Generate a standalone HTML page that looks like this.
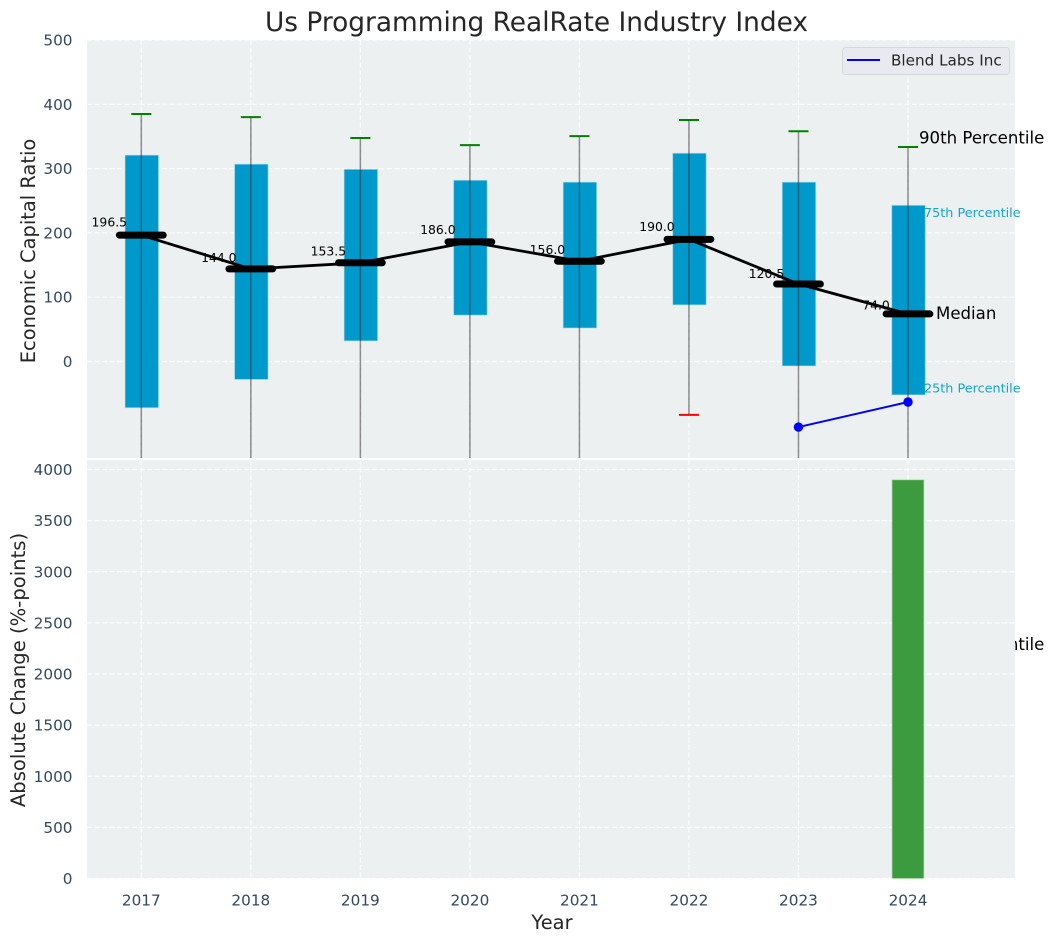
<!DOCTYPE html>
<html>
<head>
<meta charset="utf-8">
<style>
html,body{margin:0;padding:0;background:#fff;}
svg{display:block;font-family:"DejaVu Sans","Liberation Sans",sans-serif;}
</style>
</head>
<body>
<svg id="chart" width="1054" height="942" viewBox="0 0 1054 942" xmlns="http://www.w3.org/2000/svg">
  <defs>
    <clipPath id="top-clip"><rect x="87" y="40" width="928" height="418"></rect></clipPath>
    <clipPath id="bottom-clip"><rect x="87" y="460" width="928" height="418.5"></rect></clipPath>
  </defs>
  <text x="536.5" y="31" text-anchor="middle" font-size="26.4" fill="#262626">Us Programming RealRate Industry Index</text>
  <rect x="87" y="40" width="928" height="418" fill="#ecf0f1"></rect>
  <g id="top-grid"></g>
  <g id="top-ticks"></g>
  <g id="top-marks" clip-path="url(#top-clip)"></g>
  <text transform="translate(35,251) rotate(-90)" text-anchor="middle" font-size="19.44" fill="#262626">Economic Capital Ratio</text>
  <g>
    <rect x="842.5" y="47.5" width="167" height="27" rx="3" fill="#e8eaf0" stroke="#d5d8dc"></rect>
    <line x1="847" y1="60" x2="880" y2="60" stroke="#0000ff" stroke-width="2"></line>
    <text x="891" y="65.5" font-size="15.2" fill="#262626">Blend Labs Inc</text>
  </g>
  <g id="annotations"></g>
  <rect x="87" y="460" width="928" height="418.5" fill="#ecf0f1"></rect>
  <g id="bottom-grid"></g>
  <g id="bottom-ticks"></g>
  <g id="bottom-bars" clip-path="url(#bottom-clip)"></g>
  <g id="x-ticks"></g>
  <text transform="translate(25,670) rotate(-90)" text-anchor="middle" font-size="19.6" fill="#262626">Absolute Change (%-points)</text>
  <text x="552" y="929" text-anchor="middle" font-size="19.44" fill="#262626">Year</text>
</svg>
<script>
const years = [2017, 2018, 2019, 2020, 2021, 2022, 2023, 2024];
const p90 = [385, 380, 347.5, 336.5, 350.5, 375.5, 358, 333.5];
const p75 = [321, 307, 299, 282, 279, 324, 279, 243];
const medians = [196.5, 144, 153.5, 186, 156, 190, 120.5, 74];
const p25 = [-72, -28, 32, 72, 52, 88, -7, -52];
const p10 = [-210, -190, -180, -170, -175, -83, -220, -454];
const companyYears = [2023, 2024];
const companyValues = [-102, -63];
const changeYears = [2024];
const changeValues = [3897];
const topTicks = [0, 100, 200, 300, 400, 500];
const bottomTicks = [0, 500, 1000, 1500, 2000, 2500, 3000, 3500, 4000];

const SVG_NS = 'http://www.w3.org/2000/svg';
function xScale(v) { return 141.3 + (v - 2017) * 109.53; }
function yTop(v) { return 361.5 - v * 0.643; }
function yBottom(v) { return 878.5 - v * 0.10225; }
function make(parent, tag, props, content) {
  const node = document.createElementNS(SVG_NS, tag);
  Object.keys(props).forEach(function (k) { node.setAttribute(k, props[k]); });
  if (content !== undefined) node.textContent = content;
  parent.appendChild(node);
  return node;
}
const GRID = { stroke: '#ffffff', 'stroke-width': 1.2, 'stroke-dasharray': '5 2.5', 'stroke-opacity': 0.85 };
function gridProps(x1, y1, x2, y2) { return Object.assign({ x1: x1, y1: y1, x2: x2, y2: y2 }, GRID); }

const topGrid = document.getElementById('top-grid');
const topTickG = document.getElementById('top-ticks');
const bottomGrid = document.getElementById('bottom-grid');
const bottomTickG = document.getElementById('bottom-ticks');
const xTickG = document.getElementById('x-ticks');
const marks = document.getElementById('top-marks');
const notes = document.getElementById('annotations');
const bars = document.getElementById('bottom-bars');

topTicks.forEach(function (t) {
  const g = make(topGrid, 'line', gridProps(87, yTop(t), 1015, yTop(t)));
  
  
  const l = make(topTickG, 'text', { x: 72.5, y: yTop(t) + 5.5, 'text-anchor': 'end', 'font-size': 15.28, fill: '#34495e' }, String(t));
  
  
});
bottomTicks.forEach(function (t) {
  const g = make(bottomGrid, 'line', gridProps(87, yBottom(t), 1015, yBottom(t)));
  
  
  const l = make(bottomTickG, 'text', { x: 72.5, y: yBottom(t) + 5.5, 'text-anchor': 'end', 'font-size': 15.28, fill: '#34495e' }, String(t));
  
  
});
years.forEach(function (yr) {
  const x = xScale(yr);
  const g1 = make(topGrid, 'line', gridProps(x, 40, x, 458));
  
  
  const g2 = make(bottomGrid, 'line', gridProps(x, 460, x, 878.5));
  
  
  const l = make(xTickG, 'text', { x: x, y: 905.5, 'text-anchor': 'middle', 'font-size': 15.28, fill: '#34495e' }, String(yr));
  
  
});

years.forEach(function (yr, i) {
  const x = xScale(yr);
  const box = make(marks, 'rect', {
    x: x - 16.3, y: yTop(p75[i]), width: 33.6, height: yTop(p25[i]) - yTop(p75[i]),
    fill: '#0099cc', stroke: '#c4e4ef', 'stroke-opacity': 0.6, 'stroke-width': 1
  });
  
  
});
years.forEach(function (yr, i) {
  const x = xScale(yr);
  const w = make(marks, 'line', { x1: x, y1: yTop(p90[i]), x2: x, y2: yTop(p10[i]), stroke: '#333333', 'stroke-opacity': 0.55, 'stroke-width': 1.5 });
  
  
  const capHi = make(marks, 'line', { x1: x - 10, y1: yTop(p90[i]), x2: x + 10, y2: yTop(p90[i]), stroke: '#008000', 'stroke-width': 2 });
  
  
  const capLo = make(marks, 'line', { x1: x - 10, y1: yTop(p10[i]), x2: x + 10, y2: yTop(p10[i]), stroke: '#ff0000', 'stroke-width': 2 });
  
  
});
const medianPath = make(marks, 'polyline', {
  points: years.map(function (yr, i) { return xScale(yr) + ',' + yTop(medians[i]); }).join(' '),
  fill: 'none', stroke: '#000000', 'stroke-width': 2.8
});


years.forEach(function (yr, i) {
  const x = xScale(yr);
  const m = make(marks, 'line', { x1: x - 21.9, y1: yTop(medians[i]), x2: x + 21.9, y2: yTop(medians[i]), stroke: '#000000', 'stroke-width': 7, 'stroke-linecap': 'round' });
  
  
  const t = make(marks, 'text', { x: x - 32, y: yTop(medians[i] * 1.05 + 3.3), 'text-anchor': 'middle', 'font-size': 12.4, fill: '#000000' }, medians[i].toFixed(1));
  
  
});
const companyPath = make(marks, 'polyline', {
  points: companyYears.map(function (yr, i) { return xScale(yr) + ',' + yTop(companyValues[i]); }).join(' '),
  fill: 'none', stroke: '#0000ff', 'stroke-width': 2
});


companyYears.forEach(function (yr, i) {
  const c = make(marks, 'circle', { cx: xScale(yr), cy: yTop(companyValues[i]), r: 4.7, fill: '#0000ff' });
  
  
});

const last = years.length - 1;
const xLast = xScale(years[last]);
const n90 = make(notes, 'text', { x: xLast + 11, y: yTop(p90[last]) - 3.5, 'font-size': 16.6, fill: '#000000' }, '90th Percentile');


const n75 = make(notes, 'text', { x: xLast + 16, y: yTop(p75[last]) + 11.5, 'font-size': 12.8, fill: '#0099cc', 'fill-opacity': 0.9 }, '75th Percentile');


const nMed = make(notes, 'text', { x: xLast + 28, y: yTop(medians[last]) + 5, 'font-size': 16.6, fill: '#000000' }, 'Median');


const n25 = make(notes, 'text', { x: xLast + 16, y: yTop(p25[last]) - 2.5, 'font-size': 12.8, fill: '#0099cc', 'fill-opacity': 0.9 }, '25th Percentile');


const n10 = make(notes, 'text', { x: xLast + 11, y: yTop(p10[last]) - 3.5, 'font-size': 16.6, fill: '#000000' }, '10th Percentile');



changeYears.forEach(function (yr, i) {
  const x = xScale(yr);
  const b = make(bars, 'rect', {
    x: x - 15.8, y: yBottom(changeValues[i]), width: 31.5, height: yBottom(0) - yBottom(changeValues[i]),
    fill: '#3c9b3e', stroke: '#7dbd7f', 'stroke-opacity': 0.6, 'stroke-width': 1
  });
  
  
});
</script>
</body>
</html>
